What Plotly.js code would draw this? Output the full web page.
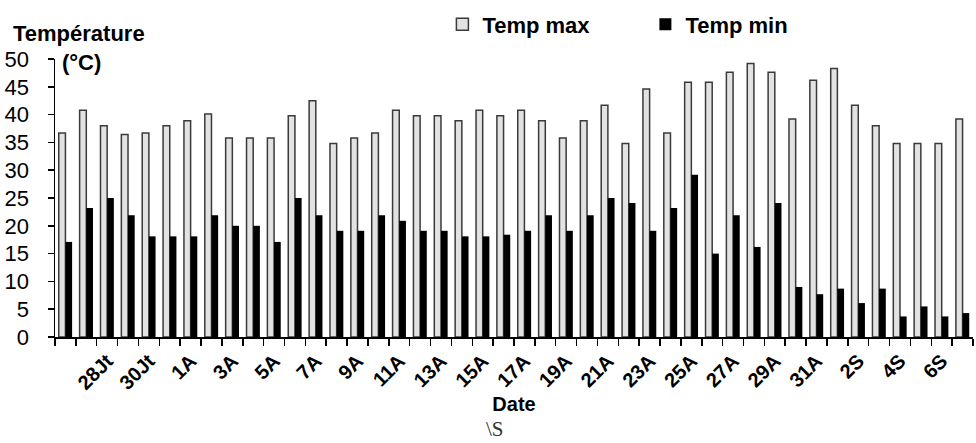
<!DOCTYPE html>
<html>
<head>
<meta charset="utf-8">
<script src="https://cdn.plot.ly/plotly-3.0.1.min.js"></script>
<style>html,body{margin:0;padding:0;background:#fff;}</style>
</head>
<body>
<div id="chart" style="width:976px;height:443px;"></div>
<script>
const dates = ['26Jt','27Jt','28Jt','29Jt','30Jt','31Jt',
  '1A','2A','3A','4A','5A','6A','7A','8A','9A','10A','11A','12A','13A','14A','15A','16A',
  '17A','18A','19A','20A','21A','22A','23A','24A','25A','26A','27A','28A','29A','30A','31A',
  '1S','2S','3S','4S','5S','6S','7S'];
const tickLabels = ['','','28Jt','','30Jt','',
  '1A','','3A','','5A','','7A','','9A','','11A','','13A','','15A','',
  '17A','','19A','','21A','','23A','','25A','','27A','','29A','','31A',
  '','2S','','4S','','6S',''];
const tempMax = [36.7, 40.8, 38.0, 36.4, 36.7, 38.0, 38.9, 40.1, 35.8, 35.8, 35.8, 39.8, 42.5,
  34.8, 35.8, 36.7, 40.8, 39.8, 39.8, 38.9, 40.8, 39.8, 40.8, 38.9, 35.8, 38.9, 41.7, 34.8,
  44.6, 36.7, 45.8, 45.8, 47.6, 49.2, 47.6, 39.2, 46.2, 48.3, 41.7, 38.0, 34.8, 34.8, 34.8, 39.2];
const tempMin = [17.1, 23.2, 25.0, 21.9, 18.1, 18.1, 18.1, 21.9, 20.0, 20.0, 17.1, 25.0, 21.9,
  19.1, 19.1, 21.9, 20.9, 19.1, 19.1, 18.1, 18.1, 18.4, 19.1, 21.9, 19.1, 21.9, 25.0, 24.1,
  19.1, 23.2, 29.2, 15.0, 21.9, 16.2, 24.1, 9.0, 7.7, 8.7, 6.1, 8.7, 3.7, 5.5, 3.7, 4.3];
const seriesNames = ['Temp max', 'Temp min'];

const FONT = 'Liberation Sans, Arial, sans-serif';

const traces = [
  {type:'bar', name: seriesNames[0], x: dates, y: tempMax,
   marker:{color:'#e2e2e2', line:{color:'#3a3a3a', width:1.5}}, hoverinfo:'skip'},
  {type:'bar', name: seriesNames[1], x: dates, y: tempMin,
   marker:{color:'#000000', line:{color:'#000000', width:0}}, hoverinfo:'skip'}
];

const layout = {
  width: 976, height: 443,
  margin: {l:55, r:3, t:57, b:106},
  paper_bgcolor:'#ffffff', plot_bgcolor:'#ffffff',
  font: {family: FONT, color:'#000'},
  barmode:'group', bargap:0.36, bargroupgap:0,
  showlegend:true,
  legend: {orientation:'h', x:0.422, xanchor:'left', y:1.2, yanchor:'top',
    font:{family:FONT, size:22, color:'#000', weight:'bold'},
    bgcolor:'rgba(0,0,0,0)', entrywidth:158, traceorder:'normal'},
  xaxis: {type:'category', range:[-0.5, 43.5],
    tickmode:'array', tickvals: dates, ticktext: tickLabels,
    tickson:'boundaries', ticks:'outside', ticklen:7, tickcolor:'#000', tickwidth:1.5,
    showline:true, linecolor:'#000', linewidth:1.5, showgrid:false, zeroline:false,
    tickangle:-45, tickfont:{family:FONT, size:20, color:'#000', weight:'bold'},
    ticklabelstandoff:3,
    title:{text:'Date', font:{family:FONT, size:20, color:'#000', weight:'bold'}, standoff:4}},
  yaxis: {range:[0,50], dtick:5, tick0:0, ticks:'outside', ticklen:6, tickcolor:'#000', tickwidth:1.5,
    showline:true, linecolor:'#000', linewidth:1.5, showgrid:false, zeroline:false,
    tickfont:{family:FONT, size:22, color:'#000'}, ticklabelstandoff:14},
  annotations: [
    {text:'Température', xref:'paper', yref:'paper', x:-0.0475, y:1.093, xanchor:'left', yanchor:'middle',
     showarrow:false, font:{family:FONT, size:22, color:'#000', weight:'bold'}},
    {text:'(°C)', xref:'paper', yref:'paper', x:0.0054, y:0.989, xanchor:'left', yanchor:'middle',
     showarrow:false, font:{family:FONT, size:22, color:'#000', weight:'bold'}},
    {text:'\\S', xref:'paper', yref:'paper', x:0.479, y:-0.331, xanchor:'center', yanchor:'middle',
     showarrow:false, font:{family:'Liberation Serif, Times New Roman, serif', size:21, color:'#333'}}
  ]
};

Plotly.newPlot('chart', traces, layout, {staticPlot:true, displayModeBar:false});
</script>
</body>
</html>
